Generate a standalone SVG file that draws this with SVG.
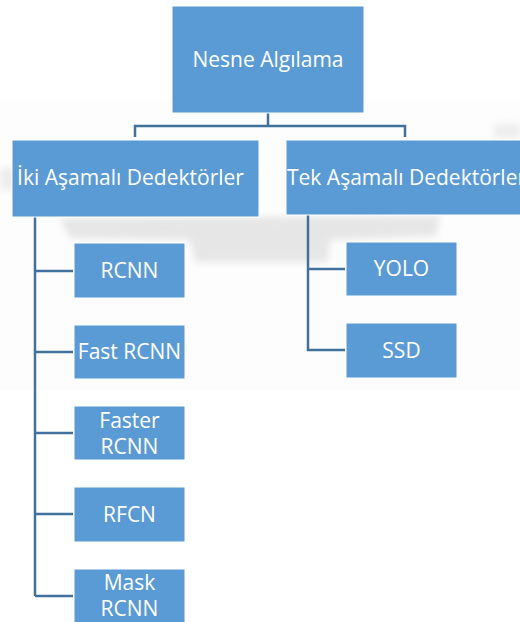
<svg xmlns="http://www.w3.org/2000/svg" width="520" height="622" viewBox="0 0 520 622">
  <defs>
    <filter id="soft" x="-10%" y="-50%" width="120%" height="200%">
      <feGaussianBlur stdDeviation="3.5"/>
    </filter>
    <style>
      .box { fill: #5B9BD5; stroke: #FFFFFF; stroke-width: 1; }
      .lbl { font-family: "Open Sans", "Liberation Sans", sans-serif; font-size: 21px; fill: #FFFFFF; text-anchor: middle; }
      .lbl-start { text-anchor: start; }
      .wire { fill: none; stroke: #41719C; stroke-width: 2.5; }
    </style>
  </defs>

  <!-- page background with faint backdrop shading -->
  <rect x="0" y="0" width="520" height="622" fill="#FFFFFF"/>
  <rect x="0" y="100" width="520" height="290" fill="#FDFDFD"/>
  <g id="backdrop" filter="url(#soft)" fill="#E6E6E6">
    <path d="M 60 218 L 440 216 L 436 236 L 330 240 L 328 262 L 195 262 L 190 240 L 70 238 Z"/>
    <rect x="0" y="168" width="16" height="22" fill="#EDEDED"/>
    <rect x="494" y="124" width="26" height="14" fill="#EDEDED"/>
  </g>

  <!-- connectors -->
  <g id="connectors" class="wire">
    <path d="M 268 113 V 126 M 135 137 V 126 H 405 V 137"/>
    <path d="M 35 217 V 596 M 35 271 H 73 M 35 352 H 73 M 35 433 H 73 M 35 514 H 73 M 35 596 H 73"/>
    <path d="M 308 215 V 350 H 345 M 308 269 H 345"/>
  </g>

  <g id="node-root">
    <rect class="box" x="172" y="6" width="192" height="107"/>
    <text class="lbl" x="268" y="67">Nesne Algılama</text>
  </g>

  <g id="node-two-stage">
    <rect class="box" x="12" y="140" width="247" height="77"/>
    <text class="lbl" x="130.5" y="185">İki Aşamalı Dedektörler</text>
  </g>

  <g id="node-one-stage">
    <rect class="box" x="286" y="140" width="240" height="75"/>
    <text class="lbl lbl-start" x="287" y="185">Tek Aşamalı Dedektörler</text>
  </g>

  <g id="node-rcnn">
    <rect class="box" x="74" y="243" width="111" height="55"/>
    <text class="lbl" x="129.5" y="278">RCNN</text>
  </g>

  <g id="node-fast-rcnn">
    <rect class="box" x="74" y="325" width="111" height="54"/>
    <text class="lbl" x="129.5" y="359">Fast RCNN</text>
  </g>

  <g id="node-faster-rcnn">
    <rect class="box" x="74" y="406" width="111" height="54"/>
    <text class="lbl" x="129.5" y="428">Faster</text>
    <text class="lbl" x="129.5" y="454">RCNN</text>
  </g>

  <g id="node-rfcn">
    <rect class="box" x="74" y="487" width="111" height="55"/>
    <text class="lbl" x="129.5" y="522">RFCN</text>
  </g>

  <g id="node-mask-rcnn">
    <rect class="box" x="74" y="569" width="111" height="60"/>
    <text class="lbl" x="129.5" y="590">Mask</text>
    <text class="lbl" x="129.5" y="616">RCNN</text>
  </g>

  <g id="node-yolo">
    <rect class="box" x="346" y="242" width="111" height="54"/>
    <text class="lbl" x="401.5" y="276">YOLO</text>
  </g>

  <g id="node-ssd">
    <rect class="box" x="346" y="323" width="111" height="55"/>
    <text class="lbl" x="401.5" y="358">SSD</text>
  </g>
</svg>
